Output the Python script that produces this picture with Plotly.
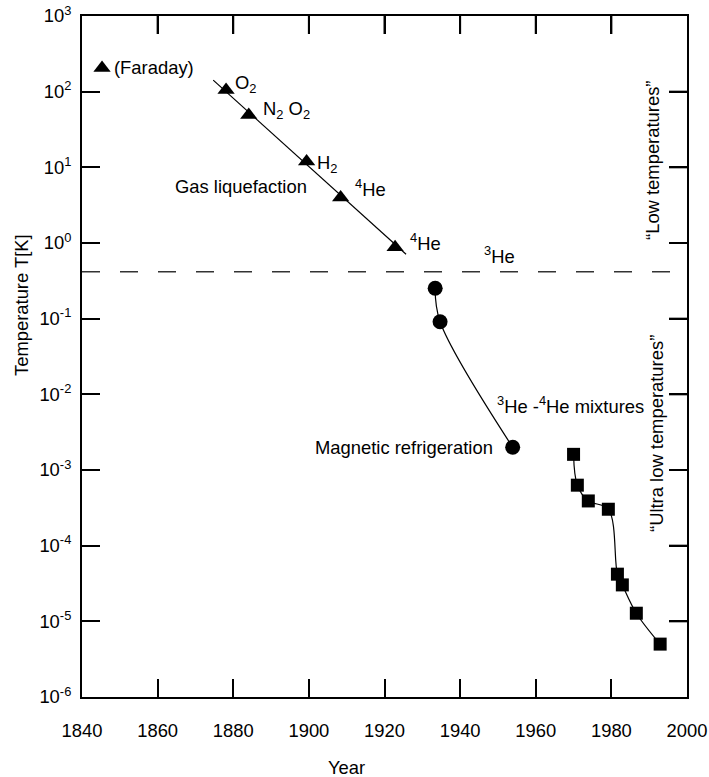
import plotly.graph_objects as go

# ---- data ----
gas_years = [1845.3, 1878.1, 1884.1, 1899.4, 1908.4, 1922.8]
gas_temps = [205, 105, 49, 11.9, 4.0, 0.88]

trend_years = [1874.7, 1925.7]
trend_temps = [142, 0.71]

mix_years = [1933.4, 1934.7, 1953.9]
mix_temps = [0.252, 0.091, 0.0020]

mag_years = [1970.0, 1971.0, 1973.9, 1979.2, 1981.6, 1982.9, 1986.6, 1992.9]
mag_temps = [1.61e-3, 6.3e-4, 3.9e-4, 3.03e-4, 4.2e-5, 3.03e-5, 1.28e-5, 5.0e-6]

boundary_temp = 0.418

x_ticks = [1840, 1860, 1880, 1900, 1920, 1940, 1960, 1980, 2000]
y_exponents = [3, 2, 1, 0, -1, -2, -3, -4, -5, -6]
y_tick_vals = [10.0 ** e for e in y_exponents]
y_tick_text = ["10<sup>%d</sup>" % e for e in y_exponents]

FONT = "Liberation Sans, Arial, sans-serif"
FS = 18.4
TICKLEN = 18
PLOT_W, PLOT_H = 605, 681

fig = go.Figure()

# gas liquefaction trend line
fig.add_trace(go.Scatter(x=trend_years, y=trend_temps, mode="lines",
                         line=dict(color="black", width=1.2), hoverinfo="skip"))
# gas liquefaction points
fig.add_trace(go.Scatter(x=gas_years, y=gas_temps, mode="markers",
                         marker=dict(symbol="triangle-up", size=15, color="black")))
# 3He-4He mixtures
fig.add_trace(go.Scatter(x=mix_years, y=mix_temps, mode="lines+markers",
                         line=dict(color="black", width=1.2, shape="spline", smoothing=1),
                         marker=dict(symbol="circle", size=15, color="black")))
# magnetic refrigeration
fig.add_trace(go.Scatter(x=mag_years, y=mag_temps, mode="lines+markers",
                         line=dict(color="black", width=1.2, shape="spline", smoothing=1),
                         marker=dict(symbol="square", size=13, color="black")))

# dashed boundary
fig.add_shape(type="line", xref="x", yref="y", x0=1840, x1=1997.3,
              y0=boundary_temp, y1=boundary_temp,
              line=dict(color="#333333", width=1.5, dash="18px,20px"))

# inward ticks on the top and right frame edges
for t in x_ticks[1:-1]:
    fig.add_shape(type="line", xref="x", yref="y domain", x0=t, x1=t,
                  y0=1, y1=1 - TICKLEN / PLOT_H, layer="above",
                  line=dict(color="black", width=2))
for v in y_tick_vals[1:-1]:
    fig.add_shape(type="line", xref="x domain", yref="y", x0=1, x1=1 - TICKLEN / PLOT_W,
                  y0=v, y1=v, layer="above", line=dict(color="black", width=2))

def ann(x, y, text, xanchor="left", angle=0, xref="x", yref="y"):
    fig.add_annotation(x=x, y=y, xref=xref, yref=yref, text=text, showarrow=False,
                       xanchor=xanchor, yanchor="middle", textangle=angle,
                       font=dict(family=FONT, size=FS, color="black"))

ann(1848.0, 2.313, "(Faraday)")
ann(1879.9, 2.10, "O<sub>2</sub>")
ann(1887.3, 1.76, "N<sub>2</sub> O<sub>2</sub>")
ann(1901.6, 1.05, "H<sub>2</sub>")
ann(1864.0, 0.744, "Gas liquefaction")
ann(1911.6, 0.727, "<sup>4</sup>He")
ann(1926.2, 0.013, "<sup>4</sup>He")
ann(1945.7, -0.159, "<sup>3</sup>He")
ann(1949.2, -2.141, "<sup>3</sup>He -<sup>4</sup>He mixtures")
ann(1949.2, -2.709, "Magnetic refrigeration", xanchor="right")
ann(1991.0, 1.097, "\u201cLow temperatures\u201d", xanchor="center", angle=-90)
ann(1991.8, -2.511, "\u201cUltra low temperatures\u201d", xanchor="center", angle=-90)

# axis titles
ann(-0.1008, 0.5756, "Temperature T[K]", xanchor="center", angle=-90, xref="paper", yref="paper")
ann(0.438, -0.1028, "Year", xanchor="center", xref="paper", yref="paper")

axis_common = dict(showline=True, linecolor="black", linewidth=2, mirror="ticks",
                   ticks="inside", ticklen=TICKLEN, tickwidth=2, tickcolor="black",
                   showgrid=False, zeroline=False, automargin=False,
                   ticklabeloverflow="allow",
                   tickfont=dict(family=FONT, size=FS, color="black"))

fig.update_xaxes(range=[1840, 2000], tickvals=x_ticks, ticklabelstandoff=16, **axis_common)
fig.update_yaxes(type="log", range=[-6, 3], tickvals=y_tick_vals, ticktext=y_tick_text,
                 ticklabelstandoff=5, **axis_common)

fig.update_layout(width=709, height=777, showlegend=False,
                  plot_bgcolor="white", paper_bgcolor="white",
                  margin=dict(l=82, r=22, t=16, b=80, autoexpand=False),
                  font=dict(family=FONT, size=FS, color="black"))

# remove the default page margin so the figure fills the window exactly
fig.write_html("out.html",
               config={"displayModeBar": False, "staticPlot": True},
               post_script="document.body.style.margin='0';document.body.style.overflow='hidden';")
